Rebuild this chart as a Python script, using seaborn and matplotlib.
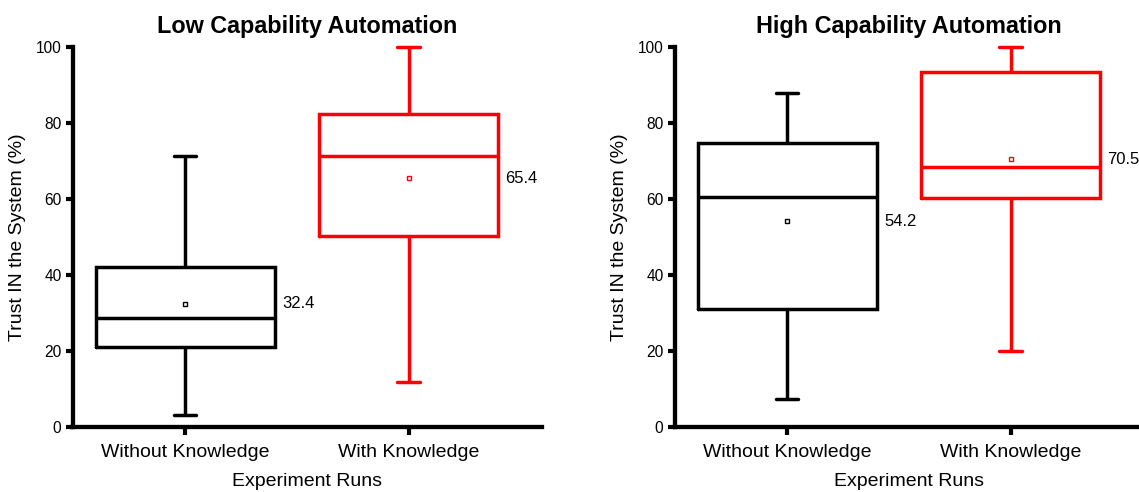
import matplotlib
matplotlib.use("Agg")
import matplotlib.pyplot as plt
import pandas as pd
import seaborn as sns

runs = ["Without Knowledge", "With Knowledge"]
titles = ["Low Capability Automation", "High Capability Automation"]
colors = ["#000000", "#ff0000"]

# Five-number summaries per group: minimum, Q1, median, Q3, maximum
low_without = [3.2, 21.0, 28.6, 42.1, 71.3]
low_with = [11.9, 50.3, 71.3, 82.3, 100.0]
high_without = [7.4, 31.1, 60.6, 74.8, 88.0]
high_with = [20.0, 60.2, 68.5, 93.3, 100.0]

# Group means (shown as small squares with labels)
low_means = [32.4, 65.4]
high_means = [54.2, 70.5]

sns.set_theme(style="ticks")
plt.rcParams["font.family"] = ["Liberation Sans", "DejaVu Sans"]

fig = plt.figure(figsize=(11.39, 4.92), dpi=100)
W, H = 1139.0, 492.0
ax_w = 469.0 / W
ax_h = 380.0 / H
ax_b = 65.0 / H
axes = [fig.add_axes([72.5 / W, ax_b, ax_w, ax_h]),
        fig.add_axes([674.5 / W, ax_b, ax_w, ax_h])]

panels = [
    (titles[0], low_without, low_with, low_means),
    (titles[1], high_without, high_with, high_means),
]

for ax, (title, grp_a, grp_b, means) in zip(axes, panels):
    df = pd.DataFrame({
        "run": [runs[0]] * len(grp_a) + [runs[1]] * len(grp_b),
        "trust": grp_a + grp_b,
    })
    sns.boxplot(
        data=df, x="run", y="trust", hue="run",
        order=runs, hue_order=runs, palette=colors,
        fill=False, whis=(0, 100), width=0.8, linewidth=2.5,
        showfliers=False, legend=False, capwidths=0.1, ax=ax,
        boxprops=dict(solid_joinstyle="miter"),
    )
    for i, (m, c) in enumerate(zip(means, colors)):
        ax.plot([i], [m], marker="s", ms=3.3, mfc="white", mec=c, mew=1.0,
                linestyle="none", zorder=5)
        ax.text(i + 0.433, m, f"{m:.1f}", ha="left", va="center",
                fontsize=12, color="black")

    for line in ax.lines:
        line.set_clip_on(False)

    ax.set_xlim(-0.505, 1.595)
    ax.set_ylim(0, 100)
    ax.set_yticks([0, 20, 40, 60, 80, 100])
    ax.set_xticks([0, 1])
    ax.set_xticklabels(runs, fontsize=14)
    ax.tick_params(axis="y", labelsize=11.2, length=5, width=3, pad=3,
                   color="black", labelcolor="black")
    ax.tick_params(axis="x", length=6, width=3, pad=6.5,
                   color="black", labelcolor="black")
    ax.set_xlabel("Experiment Runs", fontsize=14, labelpad=8.5, color="black")
    ax.set_ylabel("Trust IN the System (%)", fontsize=14, labelpad=7,
                  color="black")
    ax.set_title(title, fontsize=16.8, fontweight="bold", pad=10,
                 color="black")

    sns.despine(ax=ax)
    for side in ("left", "bottom"):
        ax.spines[side].set_linewidth(3.1)
        ax.spines[side].set_color("black")
    ax.set_facecolor("white")

fig.savefig("out.png", dpi=100, facecolor="white")
